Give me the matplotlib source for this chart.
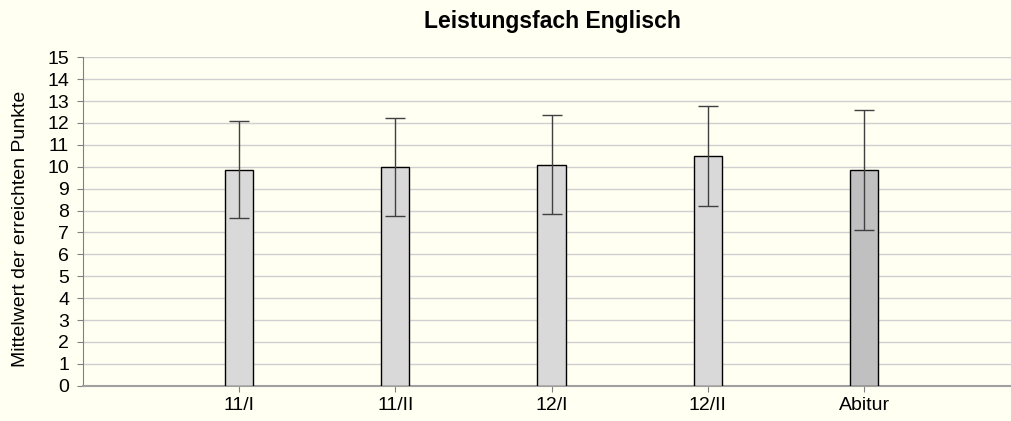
import matplotlib
matplotlib.use("Agg")
import matplotlib.pyplot as plt

categories = ["11/I", "11/II", "12/I", "12/II", "Abitur"]
means = [9.86, 10.0, 10.1, 10.5, 9.85]
sds = [2.22, 2.23, 2.26, 2.27, 2.73]
bar_colors = ["#d9d9d9", "#d9d9d9", "#d9d9d9", "#d9d9d9", "#c0c0c0"]

plt.rcParams["font.family"] = ["Liberation Sans", "DejaVu Sans"]
bg = "#fffff2"

fig = plt.figure(figsize=(10.11, 4.21), dpi=100, facecolor=bg)
ax = fig.add_axes([0.0818, 0.0838, 0.9182, 0.7802], facecolor=bg)

x = list(range(len(categories)))
ax.bar(x, means, width=0.18, color=bar_colors, edgecolor="black", linewidth=1.0, zorder=3)
ax.errorbar(x, means, yerr=sds, fmt="none", ecolor="#404040", elinewidth=1.0,
            capsize=7, capthick=1.0, zorder=4)

ax.set_xlim(-1, 4.94)
ax.set_ylim(0, 15)
ax.set_yticks(range(16))
ax.set_xticks(x)
ax.set_xticklabels(categories)
ax.yaxis.grid(True, color="#d0d0d0", linewidth=1.0, zorder=0)
ax.tick_params(axis="y", labelsize=14, length=4.3, color="#808080", pad=5.5)
ax.tick_params(axis="x", labelsize=14, length=4.3, color="#808080", pad=4)

for side in ["top", "right"]:
    ax.spines[side].set_visible(False)
ax.spines["left"].set_color("#808080")
ax.spines["bottom"].set_color("#a0a0a0")
ax.spines["bottom"].set_linewidth(1.5)

fig.text(0.0198, 0.456, "Mittelwert der erreichten Punkte", rotation=90,
         ha="center", va="center", fontsize=14)
fig.text(0.5465, 0.948, "Leistungsfach Englisch", ha="center", va="center",
         fontsize=16.5, fontweight="bold")

fig.savefig("out.png", dpi=100, facecolor=bg)
